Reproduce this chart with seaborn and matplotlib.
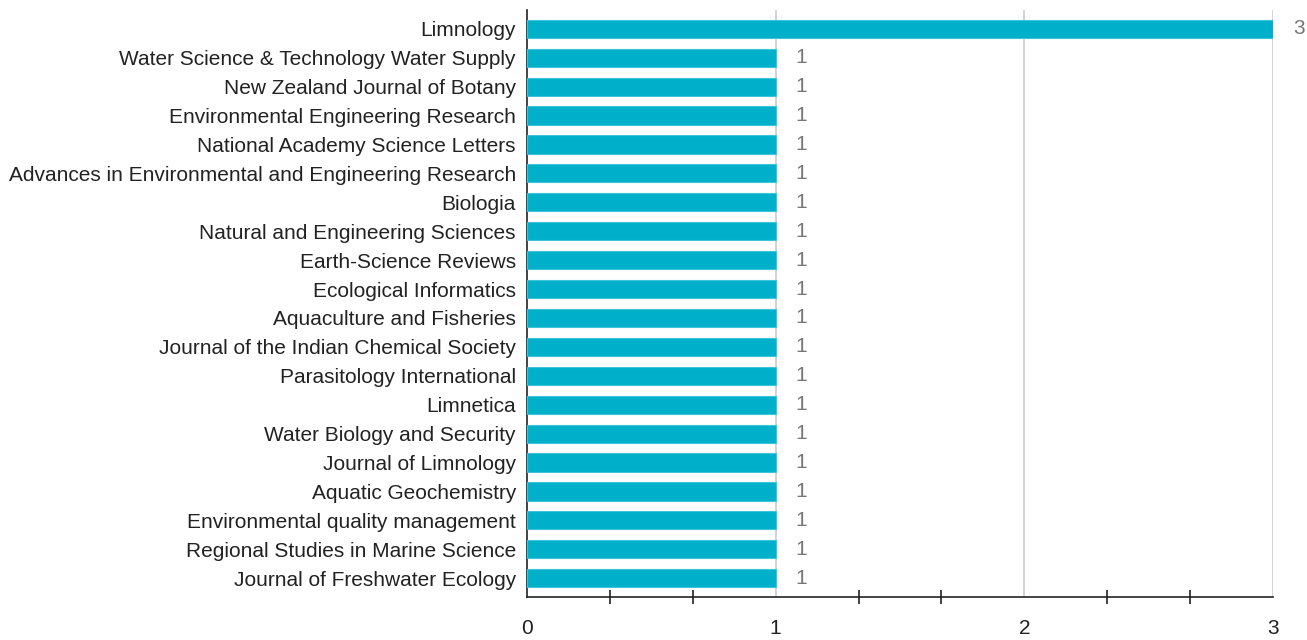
import matplotlib
matplotlib.use("Agg")
import matplotlib.pyplot as plt
import seaborn as sns
import pandas as pd
import numpy as np

journals = [
    "Limnology",
    "Water Science & Technology Water Supply",
    "New Zealand Journal of Botany",
    "Environmental Engineering Research",
    "National Academy Science Letters",
    "Advances in Environmental and Engineering Research",
    "Biologia",
    "Natural and Engineering Sciences",
    "Earth-Science Reviews",
    "Ecological Informatics",
    "Aquaculture and Fisheries",
    "Journal of the Indian Chemical Society",
    "Parasitology International",
    "Limnetica",
    "Water Biology and Security",
    "Journal of Limnology",
    "Aquatic Geochemistry",
    "Environmental quality management",
    "Regional Studies in Marine Science",
    "Journal of Freshwater Ecology",
]
counts = [3, 1, 1, 1, 1, 1, 1, 1, 1, 1, 1, 1, 1, 1, 1, 1, 1, 1, 1, 1]
major_ticks = [0, 1, 2, 3]

df = pd.DataFrame({"journal": journals, "count": counts})

sns.set_theme(style="white")
plt.rcParams['font.family'] = ['Liberation Sans', 'DejaVu Sans']

fig = plt.figure(figsize=(13.07, 6.4), dpi=100)
ax = fig.add_axes([527/1307, 43/640, (1273-527)/1307, (597-10)/640])

sns.barplot(data=df, x="count", y="journal", orient="h", color="#00B0CB",
            saturation=1, width=0.63, edgecolor="#3FC3D8", linewidth=0.8, ax=ax, zorder=3)

FS = 15
ax.set_xlim(0, 3)
ax.set_ylim(len(journals) - 0.35, -0.65)
ax.set_xticks(major_ticks)
ax.set_xticklabels([str(t) for t in major_ticks])
ax.set_xticks([i / 3 for i in range(1, 9) if i % 3 != 0], minor=True)
ax.tick_params(axis="x", which="major", length=0, pad=16, labelsize=FS, colors="#222222")
ax.tick_params(axis="x", which="minor", length=10, direction="inout", width=1.2, color="#222222", bottom=True)
ax.tick_params(axis="y", length=0, pad=8, labelsize=FS, colors="#222222")
ax.set_xlabel("")
ax.set_ylabel("")

for v in [1, 2, 3]:
    ax.axvline(v, color="#CCCCCC", linewidth=1.2, zorder=1)

for s in ["top", "right"]:
    ax.spines[s].set_visible(False)
for s in ["left", "bottom"]:
    ax.spines[s].set_color("#222222")
    ax.spines[s].set_linewidth(1.2)

for i, c in enumerate(counts):
    ax.text(c + 0.08, i, str(c), va="center", ha="left", fontsize=FS, color="#777777")

fig.savefig("out.png", dpi=100)
